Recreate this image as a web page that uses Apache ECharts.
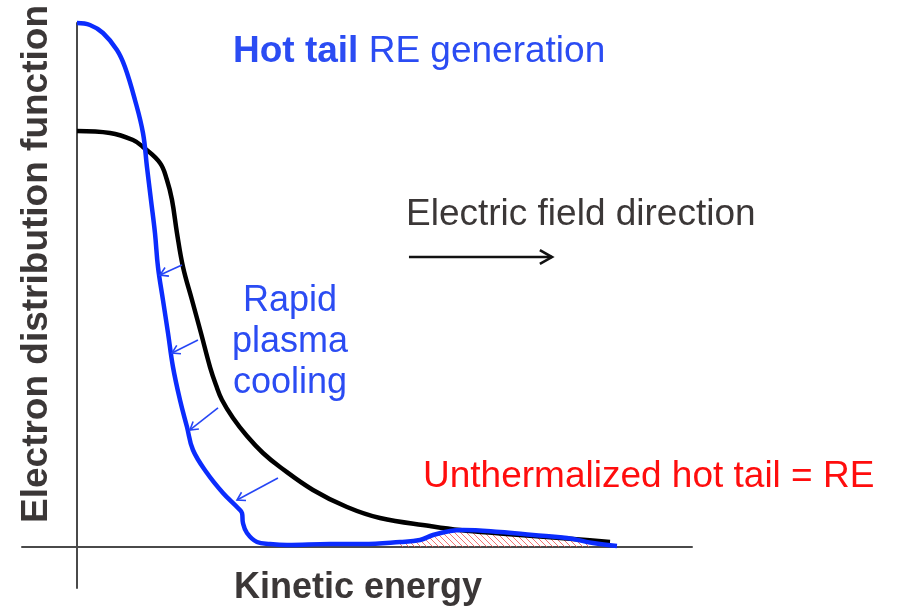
<!DOCTYPE html>
<html>
<head>
<meta charset="utf-8">
<script src="https://cdn.jsdelivr.net/npm/echarts@6/dist/echarts.min.js"></script>
<style>
  html, body { margin: 0; padding: 0; background: #fff; }
  #chart { width: 897px; height: 611px; }
</style>
</head>
<body>
<div id="chart"></div>
<script>
// Distribution before the thermal quench (black)
const initialEnergy = [0, 0.537, 0.911, 1.073, 1.350, 1.463, 1.545, 1.626, 1.724, 1.870, 2.016, 2.163, 2.260, 2.358, 2.537, 2.764, 3.024, 3.301, 3.837, 4.390, 4.927, 5.740, 6.228, 6.878, 7.528, 8.179, 8.667];
const initialF      = [79.39, 79.01, 77.67, 76.34, 73.28, 70.04, 66.22, 59.92, 53.44, 47.14, 40.84, 34.35, 30.92, 28.05, 24.62, 21.18, 17.94, 15.27, 10.88, 7.63, 5.53, 4.01, 3.24, 2.58, 2.00, 1.43, 0.95];

// Distribution after rapid cooling, with the surviving hot tail (blue)
const cooledEnergy = [0, 0.211, 0.423, 0.650, 0.780, 0.943, 1.073, 1.138, 1.203, 1.268, 1.317, 1.398, 1.480, 1.561, 1.675, 1.789, 1.886, 2.114, 2.374, 2.618, 2.683, 2.699, 2.764, 2.927, 3.138, 3.415, 4.114, 4.650, 5.252, 5.577, 5.789, 6.065, 6.276, 6.878, 7.415, 7.967, 8.390, 8.780];
const cooledF      = [100, 99.62, 98.09, 94.85, 91.60, 85.31, 79.01, 72.52, 66.22, 59.92, 53.44, 47.14, 40.84, 34.35, 28.05, 22.90, 18.51, 14.12, 10.31, 7.44, 6.49, 4.58, 2.67, 0.95, 0.57, 0.38, 0.57, 0.57, 0.95, 1.34, 2.29, 3.05, 3.24, 2.86, 2.29, 1.72, 0.76, 0.19];

// Energy span of the unthermalized tail (hatched)
const tailRange = [5.25, 8.4];

// Cooling arrows [fromE, fromF, toE, toF]
const coolingArrows = [
  [1.707, 53.82, 1.350, 51.91],
  [1.967, 39.50, 1.545, 37.02],
  [2.293, 26.53, 1.837, 22.33],
  [3.268, 13.17, 2.602, 8.97]
];
// Electric field direction arrow
const fieldArrow = [[5.398, 55.34, 7.724, 55.34]];

const zip = (xs, ys) => xs.map((x, i) => [x, ys[i]]);
const initial = zip(initialEnergy, initialF);
const cooled = zip(cooledEnergy, cooledF);
const tail = cooled.filter(p => p[0] >= tailRange[0] && p[0] <= tailRange[1]);

function hatchPattern() {
  const s = 6;
  const c = document.createElement('canvas');
  c.width = s; c.height = s;
  const g = c.getContext('2d');
  g.strokeStyle = 'rgba(240,80,80,0.8)';
  g.lineWidth = 1;
  g.beginPath();
  g.moveTo(-1, -1); g.lineTo(s + 1, s + 1);
  g.moveTo(-1, s - 1); g.lineTo(1, s + 1);
  g.moveTo(s - 1, -1); g.lineTo(s + 1, 1);
  g.stroke();
  return c;
}

function arrowRenderer(color, width, head, spread) {
  return function (params, api) {
    const a = api.coord([api.value(0), api.value(1)]);
    const b = api.coord([api.value(2), api.value(3)]);
    const ang = Math.atan2(b[1] - a[1], b[0] - a[0]);
    const h1 = [b[0] - head * Math.cos(ang - spread), b[1] - head * Math.sin(ang - spread)];
    const h2 = [b[0] - head * Math.cos(ang + spread), b[1] - head * Math.sin(ang + spread)];
    return {
      type: 'group',
      children: [
        { type: 'polyline', shape: { points: [a, b] }, style: { stroke: color, lineWidth: width, fill: null } },
        { type: 'polyline', shape: { points: [h1, b, h2] }, style: { stroke: color, lineWidth: width, fill: null } }
      ]
    };
  };
}

const FONT = '"Liberation Sans", Arial, Helvetica, sans-serif';
const BLUE_TEXT = '#2b4cf3';
const GREY_TEXT = '#3b3737';

const chart = echarts.init(document.getElementById('chart'), null, { renderer: 'canvas' });
chart.setOption({
  animation: false,
  backgroundColor: '#ffffff',
  grid: { left: 22, right: 205, top: 23, bottom: 23, containLabel: false },
  xAxis: {
    type: 'value', min: -0.894, max: 10,
    axisLine: { show: true, onZero: true, lineStyle: { color: '#4a4a4a', width: 2 } },
    axisTick: { show: false }, axisLabel: { show: false }, splitLine: { show: false }
  },
  yAxis: {
    type: 'value', min: -7.824, max: 100,
    axisLine: { show: true, onZero: true, lineStyle: { color: '#4a4a4a', width: 2 } },
    axisTick: { show: false }, axisLabel: { show: false }, splitLine: { show: false }
  },
  series: [
    {
      name: 'RE tail', type: 'line', data: tail, symbol: 'none', z: 1,
      smooth: 0.4,
      lineStyle: { width: 0, opacity: 0 },
      areaStyle: { color: { image: hatchPattern(), repeat: 'repeat' }, opacity: 1 },
      clip: false, silent: true
    },
    {
      name: 'Initial', type: 'line', data: initial, symbol: 'none', z: 2,
      smooth: 0.4,
      lineStyle: { color: '#000000', width: 4.5 }, clip: false, silent: true
    },
    {
      name: 'Cooled', type: 'line', data: cooled, symbol: 'none', z: 3,
      smooth: 0.4,
      lineStyle: { color: '#0b2cfd', width: 4.5, join: 'round' }, clip: false, silent: true
    },
    {
      name: 'Cooling arrows', type: 'custom', data: coolingArrows, z: 4,
      encode: { x: [0, 2], y: [1, 3] },
      renderItem: arrowRenderer('#2646f5', 1.6, 9, 0.55), clip: false, silent: true
    },
    {
      name: 'Field', type: 'custom', data: fieldArrow, z: 4,
      encode: { x: [0, 2], y: [1, 3] },
      renderItem: arrowRenderer('#111111', 2.6, 14, 0.52), clip: false, silent: true
    }
  ],
  graphic: [
    {
      type: 'text', x: 233, y: 52, silent: true,
      style: {
        text: '{b|Hot tail} RE generation', font: '37px ' + FONT, fill: BLUE_TEXT,
        verticalAlign: 'middle', align: 'left',
        rich: { b: { fontWeight: 'bold', fontSize: 37, fontFamily: FONT, fill: BLUE_TEXT } }
      }
    },
    {
      type: 'text', x: 406, y: 215, silent: true,
      style: { text: 'Electric field direction', font: '37px ' + FONT, fill: GREY_TEXT, verticalAlign: 'middle', align: 'left' }
    },
    {
      type: 'text', x: 290, y: 342, silent: true,
      style: { text: 'Rapid\nplasma\ncooling', font: '36px ' + FONT, fill: BLUE_TEXT, lineHeight: 41, verticalAlign: 'middle', align: 'center' }
    },
    {
      type: 'text', x: 423, y: 477, silent: true,
      style: { text: 'Unthermalized hot tail = RE', font: '37px ' + FONT, fill: '#ff0d0d', verticalAlign: 'middle', align: 'left' }
    },
    {
      type: 'text', x: 358, y: 588, silent: true,
      style: { text: 'Kinetic energy', font: 'bold 36px ' + FONT, fill: GREY_TEXT, verticalAlign: 'middle', align: 'center' }
    },
    {
      type: 'text', x: 37, y: 264, rotation: Math.PI / 2, silent: true,
      style: { text: 'Electron distribution function', font: 'bold 37px ' + FONT, fill: GREY_TEXT, verticalAlign: 'middle', align: 'center' }
    }
  ]
});
</script>
</body>
</html>
